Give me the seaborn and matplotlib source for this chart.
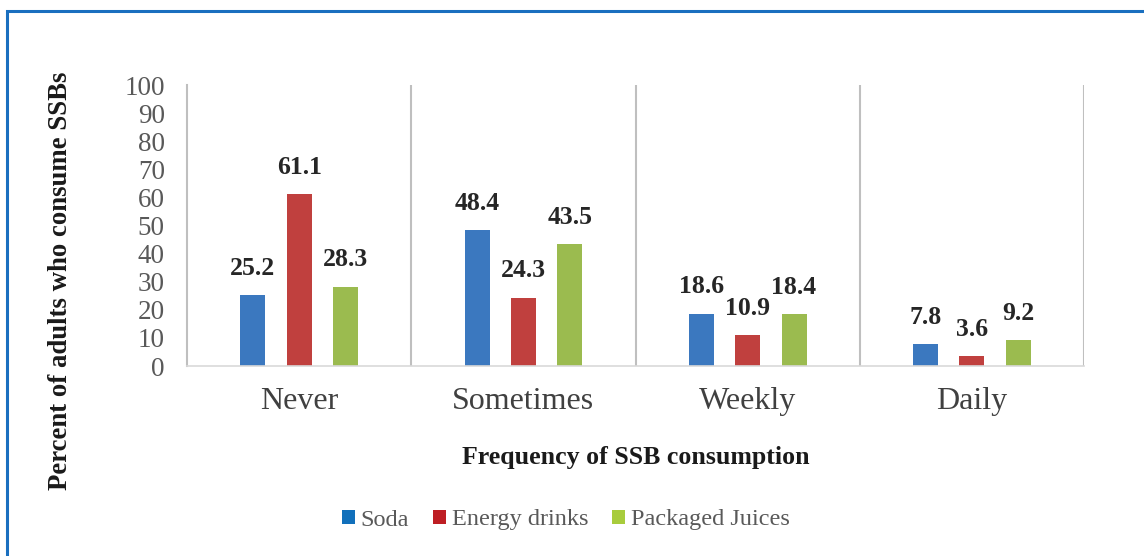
import matplotlib
matplotlib.use("Agg")
import matplotlib.pyplot as plt
from matplotlib.patches import Patch, Rectangle
import seaborn as sns
import pandas as pd

# Survey results: share of adults (%) by consumption frequency
categories = ["Never", "Sometimes", "Weekly", "Daily"]
drinks = ["Soda", "Energy drinks", "Packaged Juices"]
soda = [25.2, 48.4, 18.6, 7.8]
energy_drinks = [61.1, 24.3, 10.9, 3.6]
packaged_juices = [28.3, 43.5, 18.4, 9.2]

bar_colors = ["#3b78bf", "#c0403e", "#9bbb4f"]
legend_colors = ["#1170bb", "#be1e24", "#a8cc3c"]

df = pd.DataFrame({
    "frequency": categories * 3,
    "drink": [drinks[0]] * 4 + [drinks[1]] * 4 + [drinks[2]] * 4,
    "percent": soda + energy_drinks + packaged_juices,
})

sns.set_theme(style="white")
plt.rcParams["font.family"] = ["Liberation Serif", "DejaVu Serif"]

fig = plt.figure(figsize=(11.44, 5.56), dpi=100)
ax = fig.add_axes([0.1635, 0.3417, 0.9476 - 0.1635, 0.847 - 0.3417])

sns.barplot(data=df, x="frequency", y="percent", hue="drink",
            order=categories, hue_order=drinks, palette=bar_colors,
            width=0.62, gap=0.46, saturation=1, legend=False, ax=ax,
            edgecolor="none")

ax.set_xlim(-0.5, len(categories) - 0.5)
ax.set_ylim(0, 100)
ax.set_yticks(range(0, 101, 10))
ax.tick_params(axis="y", length=0, labelsize=19.5, labelcolor="#595959", pad=16)
ax.tick_params(axis="x", length=0, labelsize=23, labelcolor="#404040", pad=15)

for side in ["top", "right"]:
    ax.spines[side].set_visible(False)
ax.spines["left"].set_color("#bfbfbf")
ax.spines["left"].set_linewidth(1.5)
ax.spines["bottom"].set_color("#d9d9d9")
ax.spines["bottom"].set_linewidth(1.2)

# vertical separators between frequency groups
for xb in [0.5, 1.5, 2.5, 3.5]:
    ax.axvline(xb, color="#bfbfbf", lw=1.5, zorder=0)

# value labels above each bar
for container in ax.containers:
    ax.bar_label(container, fmt="%.1f", padding=11, fontsize=18.5,
                 fontweight="bold", color="#262626")

ax.set_xlabel("Frequency of SSB consumption", fontsize=18.6, fontweight="bold",
              color="#1a1a1a", labelpad=22)
ax.set_ylabel("Percent of adults who consume SSBs", fontsize=19.3,
              fontweight="bold", color="#1a1a1a")
ax.yaxis.set_label_coords(-0.127, 0.305)

handles = [Patch(facecolor=c, edgecolor="none") for c in legend_colors]
fig.legend(handles, drinks, loc="center", bbox_to_anchor=(566 / 1144, 1 - 520 / 556),
           ncol=3, frameon=False, fontsize=17.5, handlelength=0.5,
           handleheight=0.5, handletextpad=0.25, columnspacing=1.0,
           labelcolor="#595959")

# outer frame
fig.patches.append(Rectangle((6.5 / 1144, -0.05), 1.2, 1 - 11.5 / 556 + 0.05,
                             transform=fig.transFigure, fill=False,
                             edgecolor="#1a6fbf", lw=2.2))

fig.savefig("out.png", dpi=100)
